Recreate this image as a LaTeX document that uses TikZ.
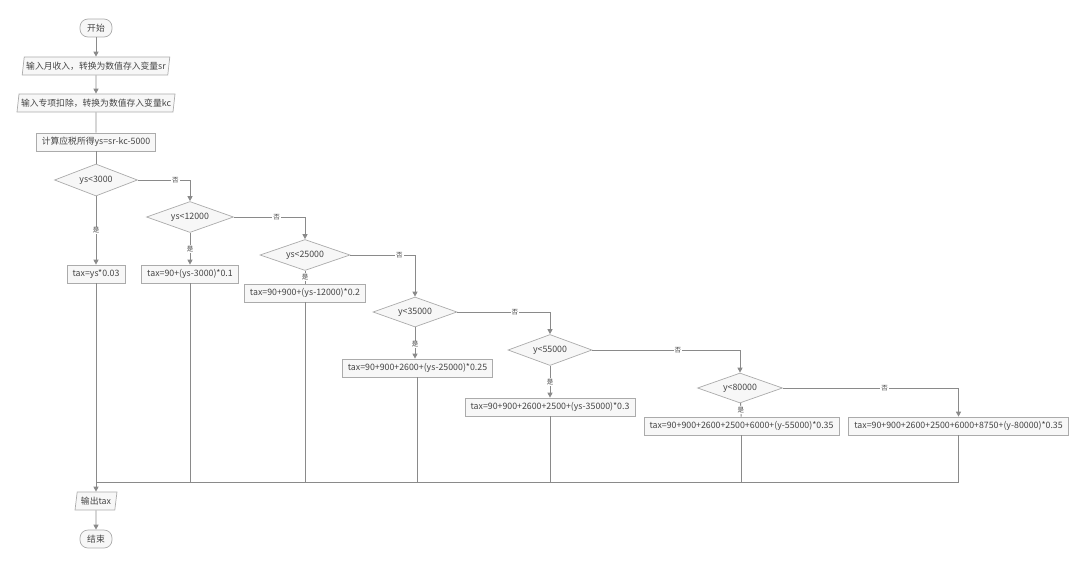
\documentclass[tikz,border=0pt]{standalone}
\usepackage{fontspec}
\setmainfont{Noto Sans CJK SC}
\usetikzlibrary{shapes.geometric,arrows.meta}
\definecolor{bordc}{HTML}{ABABAB}
\definecolor{fillc}{HTML}{F7F7F7}
\definecolor{linec}{HTML}{8A8A8A}
\definecolor{textc}{HTML}{444444}
\begin{document}
\begin{tikzpicture}[x=1pt,y=-1pt,
  base/.style={draw=bordc,fill=fillc,line width=0.7pt,text=textc,font=\fontsize{8.8}{10}\selectfont,minimum height=18pt,inner xsep=5.5pt,inner ysep=1pt},
  term/.style={base,rounded corners=8pt,minimum width=32pt},
  proc/.style={base},
  io/.style={base,trapezium,trapezium left angle=79,trapezium right angle=101,trapezium stretches=true,inner xsep=2pt},
  dec/.style={base,diamond,inner sep=0pt,shape aspect=2.8},
  conn/.style={draw=linec,line width=0.9pt,-{Triangle[length=5pt,width=5pt]}},
  plain/.style={draw=linec,line width=0.9pt},
  lab/.style={fill=white,text=textc,font=\fontsize{6.5}{7}\selectfont,inner sep=1pt}
]
\useasboundingbox (0,0) rectangle (1089,568);
\node[term] (start) at (96,28) {开始};
\node[io, minimum width=146pt] (in1) at (96,66) {输入月收入，转换为数值存入变量sr};
\node[io, minimum width=156pt] (in2) at (96,103) {输入专项扣除，转换为数值存入变量kc};
\node[proc] (calc) at (96,142) {计算应税所得ys=sr-kc-5000};
\node[dec, minimum width=83pt, minimum height=32pt] (d1) at (96,180) {ys<3000};
\node[dec, minimum width=87pt, minimum height=31pt] (d2) at (190,217) {ys<12000};
\node[dec, minimum width=90pt, minimum height=31pt] (d3) at (305,255) {ys<25000};
\node[dec, minimum width=84pt, minimum height=30pt] (d4) at (415,312) {y<35000};
\node[dec, minimum width=84pt, minimum height=31pt] (d5) at (550,350) {y<55000};
\node[dec, minimum width=85pt, minimum height=30pt] (d6) at (740,388) {y<80000};
\node[proc] (b1) at (96,274) {tax=ys*0.03};
\node[proc] (b2) at (190,274) {tax=90+(ys-3000)*0.1};
\node[proc] (b3) at (305,293) {tax=90+900+(ys-12000)*0.2};
\node[proc] (b4) at (417.5,368) {tax=90+900+2600+(ys-25000)*0.25};
\node[proc] (b5) at (550,407) {tax=90+900+2600+2500+(ys-35000)*0.3};
\node[proc] (b6) at (741.5,426) {tax=90+900+2600+2500+6000+(y-55000)*0.35};
\node[proc] (b7) at (958.5,426) {tax=90+900+2600+2500+6000+8750+(y-80000)*0.35};
\node[io, minimum width=42pt] (out) at (96,501) {输出tax};
\node[term] (stop) at (96,539) {结束};
\coordinate (m) at (96,482);
\draw[conn] (start) -- (in1);
\draw[conn] (in1) -- (in2);
\draw[plain] (in2) -- (calc);
\draw[plain] (calc) -- (d1);
\draw[conn] (d1) -- node[lab]{是} (b1);
\draw[conn] (d2) -- node[lab]{是} (b2);
\draw[plain] (d3) -- node[lab]{是} (b3);
\draw[conn] (d4) -- node[lab,pos=0.55]{是} (d4 |- b4.north);
\draw[conn] (d5) -- node[lab,pos=0.5]{是} (b5);
\draw[plain] (d6) -- node[lab]{是} (b6);
\draw[conn] (d1.east) -| node[lab,pos=0.36]{否} (d2.north);
\draw[conn] (d2.east) -| node[lab,pos=0.3]{否} (d3.north);
\draw[conn] (d3.east) -| node[lab,pos=0.38]{否} (d4.north);
\draw[conn] (d4.east) -| node[lab,pos=0.31]{否} (d5.north);
\draw[conn] (d5.east) -| node[lab,pos=0.29]{否} (d6.north);
\draw[conn] (d6.east) -| node[lab,pos=0.29]{否} (b7.north);
\draw[plain] (b2.south) |- (m);
\draw[plain] (b3.south) |- (m);
\draw[plain] (b4.south) |- (m);
\draw[plain] (b5.south) |- (m);
\draw[plain] (b6.south) |- (m);
\draw[plain] (b7.south) |- (m);
\draw[conn] (b1) -- (out);
\draw[conn] (out) -- (stop);
\end{tikzpicture}
\end{document}
